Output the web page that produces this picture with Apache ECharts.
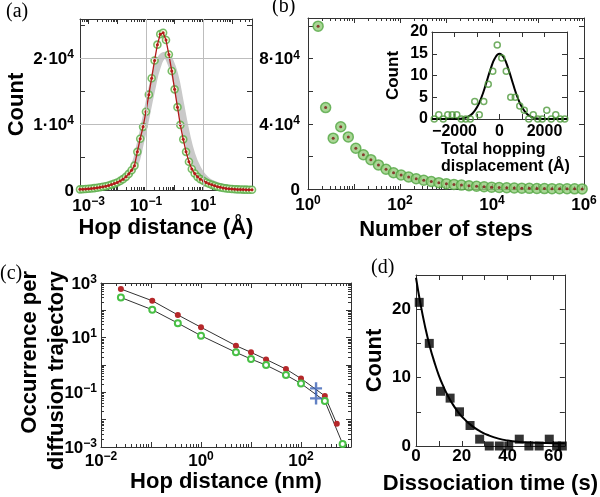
<!DOCTYPE html>
<html><head><meta charset="utf-8">
<script src="https://cdn.jsdelivr.net/npm/echarts@6/dist/echarts.min.js"></script>
<style>html,body{margin:0;padding:0;background:#fff}#c{width:600px;height:497px}</style>
</head><body><div id="c"></div>
<script>
// ---------- Panel (a): hop distance histogram ----------
const hopX = [0.000501,0.000631,0.000794,0.001,0.00126,0.00158,0.002,0.00251,0.00316,0.00398,0.00501,0.00631,0.00794,0.01,0.0126,0.0158,0.02,0.0251,0.0316,0.0398,0.0501,0.0631,0.0794,0.1,0.126,0.158,0.2,0.251,0.316,0.398,0.501,0.631,0.794,1,1.26,1.58,2,2.51,3.16,3.98,5.01,6.31,7.94,10,12.6,15.8,20,25.1,31.6,39.8,50.1,63.1,79.4,100,126,158,200,251,316,398,501];
const hopCount = [100,120,150,190,230,280,340,410,490,580,690,820,970,1150,1380,1650,2000,2450,3000,3700,5800,7800,9600,11900,14500,17000,19700,22100,23700,23900,22800,20600,18100,15300,12600,9900,7700,5800,4300,3200,2500,2000,1650,1400,1150,950,780,630,500,400,310,240,190,150,120,95,75,60,50,40,30];
const hopFitX = [0.000501,0.001,0.00251,0.00631,0.01,0.0158,0.0251,0.0398,0.0631,0.1,0.158,0.251,0.398,0.501,0.631,1,1.58,2.51,3.98,6.31,10,15.8,25.1,39.8,63.1,100,251,501];
const hopFitY = [100,190,410,820,1150,1650,2450,3700,7000,11000,15200,18800,20400,20500,20000,17600,13300,8800,5400,3300,2000,1250,800,500,300,180,80,40];
const hopYTicks = {0:'{b|0}', 10000:'{b|1·10}{s|4}', 20000:'{b|2·10}{s|4}'};

// ---------- Panel (b): number of steps ----------
const stepsX = [1.66,2.42,3.53,5.15,7.52,10.96,16.0,23.3,34.0,49.7,72.4,105.7,154,225,328,479,698,1019,1486,2168,3162,4613,6730,9817,14322,20893,30479,44463,64863,94624,138038,201372,293765,428549,625173,912011];
const stepsCount = [100000,50000,31200,38200,32000,25000,21000,18000,14800,12100,10000,8600,7400,6300,5400,4600,3900,3300,2800,2400,2000,1700,1400,1150,950,780,640,520,420,340,270,210,160,120,90,60];
const stepsYTicks = {0:'{b|0}', 40000:'{b|4·10}{s|4}', 80000:'{b|8·10}{s|4}'};

// ---------- Inset: total hopping displacement ----------
const dispX = [-2900,-2700,-2500,-2300,-2100,-1900,-1700,-1500,-1300,-1100,-900,-700,-500,-300,-100,100,300,500,700,900,1100,1300,1500,1700,1900,2100,2300,2500,2700,2900];
const dispCount = [0,1,0,1,1,1,0,0,0,4,1,4,8,11,17,14,11,5,5,3,2,0,1,0,0,2,0,1,0,0];
const dispFitX = [-3000,-2500,-2000,-1800,-1600,-1400,-1200,-1000,-800,-600,-400,-200,0,200,400,600,800,1000,1200,1400,1600,1800,2000,2500,3000];
const dispFitY = [0,0,0.01,0.06,0.19,0.52,1.27,2.7,5.0,8.09,11.4,14.0,15,14.0,11.4,8.09,5.0,2.7,1.27,0.52,0.19,0.06,0.01,0,0];
const dispXTicks = {'-2000':'−2000', '0':'0', '2000':'2000'};

// ---------- Panel (c): occurrence per trajectory ----------
const occRedX = [0.025,0.106,0.344,1,5,10,20,50,100,300,520];
const occRedY = [603,224,68,24,5.1,2.9,1.6,0.71,0.32,0.074,0.0071];
const occGreenX = [0.025,0.106,0.344,1,5,10,20,50,100,300,680];
const occGreenY = [295,105,34,11.8,2.9,1.65,0.99,0.43,0.21,0.048,0.0013];
const occBlueX = [200,200];
const occBlueY = [0.14,0.06];

// ---------- Panel (d): dissociation time ----------
const dissX = [1.4,5.8,10.7,14.9,19,23.6,27.8,32,36.4,40.5,45.1,49.3,53.8,58.2,61.4,63.9];
const dissCount = [21,15,8,7,5,3,1,0,0,0,1,0,0,1,0,0];
const dissFitX = [0,2,4,6,8,10,12,14,16,18,20,24,28,32,36,40,45,50,55,60,65];
const dissFitY = [24.6,20.7,17.4,14.6,12.3,10.3,8.67,7.28,6.12,5.14,4.32,3.05,2.15,1.52,1.08,0.8,0.6,0.5,0.45,0.4,0.4];
const dissXTicks = {0:'0', 20:'20', 40:'40', 60:'60'};
const dissYTicks = {0:'0', 10:'10', 20:'20'};

// ---------- styling helpers ----------
const F = 'Liberation Sans, Arial, Helvetica, sans-serif';
const SERIF = 'Liberation Serif, Times New Roman, serif';
const AX = '#333';
const pairs = (xs, ys) => xs.map((v, i) => [v, ys[i]]);
const RICH = {
  b: {fontSize: 17, fontWeight: 'bold', fontFamily: F, color: '#000', verticalAlign: 'bottom', lineHeight: 19},
  s: {fontSize: 12, fontWeight: 'bold', fontFamily: F, color: '#000', verticalAlign: 'bottom', lineHeight: 19, padding: [0, 0, 7, 0]}
};
function isPow(v) { const e = Math.log10(v); return Math.abs(e - Math.round(e)) < 1e-6; }
function logFmt(parity) {
  return function (v) {
    if (!isPow(v)) return '';
    const e = Math.round(Math.log10(v));
    if ((((e % 2) + 2) % 2) !== parity) return '';
    return '{b|10}{s|' + (e < 0 ? '−' + (-e) : String(e)) + '}';
  };
}
function mapFmt(m) { return v => (m[String(Math.round(v))] !== undefined && Math.abs(v - Math.round(v)) < 1e-9) ? m[String(Math.round(v))] : ''; }

function common(isLog) {
  const o = {
    axisLine: {show: true, onZero: false, lineStyle: {color: AX, width: 1}},
    axisTick: {show: true, inside: true, length: 5, lineStyle: {color: AX, width: 1}},
    splitLine: {show: false}
  };
  if (isLog) {
    o.type = 'log'; o.logBase = 10;
    o.minorTick = {show: true, splitNumber: 9, length: 3, lineStyle: {color: AX, width: 1}};
    o.minorSplitLine = {show: false};
  } else { o.type = 'value'; }
  return o;
}
const nameStyle = (fs) => ({fontSize: fs, fontWeight: 'bold', fontFamily: F, color: '#000'});

const xAxes = [], yAxes = [];
function addAxes(grid, xc, yc) {
  const xi = xAxes.length, yi = yAxes.length;
  const xl = Object.assign({show: true, color: '#000', fontFamily: F, fontWeight: 'bold', fontSize: 17, rich: RICH}, xc.label);
  const yl = Object.assign({show: true, color: '#000', fontFamily: F, fontWeight: 'bold', fontSize: 17, rich: RICH}, yc.label);
  xAxes.push(Object.assign({gridIndex: grid, position: 'bottom'}, common(xc.log), xc.range, {axisLabel: xl}, xc.name || {}));
  xAxes.push(Object.assign({gridIndex: grid, position: 'top'}, common(xc.log), xc.range, {axisLabel: {show: false}}));
  yAxes.push(Object.assign({gridIndex: grid, position: 'left'}, common(yc.log), yc.range, {axisLabel: yl}, yc.name || {}));
  yAxes.push(Object.assign({gridIndex: grid, position: 'right'}, common(yc.log), yc.range, {axisLabel: {show: false}}));
  return {xi, yi};
}

const grids = [
  {left: 80, top: 19, width: 172, height: 171},          // a
  {left: 308, top: 18, width: 276, height: 171},         // b
  {left: 432, top: 32, width: 135, height: 87, show: true, backgroundColor: '#fff', borderWidth: 0}, // inset
  {left: 101, top: 283, width: 250, height: 164},        // c
  {left: 416, top: 275, width: 156, height: 171}         // d
];

const A = addAxes(0,
  {log: true, range: {min: 0.000501, max: 501}, label: {formatter: logFmt(1), margin: 6},
   name: {name: 'Hop distance (Å)', nameLocation: 'middle', nameGap: 27, nameTextStyle: nameStyle(22)}},
  {log: false, range: {min: 0, max: 26000, interval: 5000}, label: {formatter: v => hopYTicks[v] || '', margin: 6},
   name: {name: 'Count', nameLocation: 'middle', nameRotate: 90, nameGap: 52, nameTextStyle: nameStyle(22)}});
const B = addAxes(1,
  {log: true, range: {min: 1, max: 1000000}, label: {formatter: logFmt(0), margin: 6},
   name: {name: 'Number of steps', nameLocation: 'middle', nameGap: 30, nameTextStyle: nameStyle(22)}},
  {log: false, range: {min: 0, max: 105000, interval: 20000}, label: {formatter: v => stepsYTicks[v] || '', margin: 8}});
const I = addAxes(2,
  {log: false, range: {min: -3000, max: 3000, interval: 1000}, label: {formatter: mapFmt(dispXTicks), margin: 5, fontSize: 16}},
  {log: false, range: {min: 0, max: 20, interval: 5}, label: {margin: 4, fontSize: 16},
   name: {name: 'Count', nameLocation: 'middle', nameRotate: 90, nameGap: 30, nameTextStyle: nameStyle(17)}});
const C = addAxes(3,
  {log: true, range: {min: 0.01, max: 1000}, label: {formatter: logFmt(0), margin: 4},
   name: {name: 'Hop distance (nm)', nameLocation: 'middle', nameGap: 19, nameTextStyle: nameStyle(22)}},
  {log: true, range: {min: 0.001, max: 1000}, label: {formatter: logFmt(1), margin: 4}});
const D = addAxes(4,
  {log: false, range: {min: 0, max: 65, interval: 10}, label: {formatter: mapFmt(dissXTicks), margin: 2},
   name: {name: 'Dissociation time (s)', nameLocation: 'middle', nameGap: 27, nameTextStyle: nameStyle(22)}},
  {log: false, range: {min: 0, max: 25, interval: 5}, label: {formatter: mapFmt(dissYTicks), margin: 5},
   name: {name: 'Count', nameLocation: 'middle', nameRotate: 90, nameGap: 30, nameTextStyle: nameStyle(22)}});

const series = [
  // (a)
  {type: 'line', xAxisIndex: A.xi, yAxisIndex: A.yi, data: pairs(hopFitX, hopFitY), smooth: true, showSymbol: false,
   lineStyle: {color: '#c9c9c9', width: 7}, z: 1, silent: true,
   markLine: {silent: true, symbol: 'none', label: {show: false}, lineStyle: {color: '#bdbdbd', width: 1, type: 'solid'},
     data: [{xAxis: 0.001}, {xAxis: 0.1}, {xAxis: 10}, {yAxis: 10000}, {yAxis: 20000}]}},
  {type: 'scatter', xAxisIndex: A.xi, yAxisIndex: A.yi, data: pairs(hopX, hopCount), symbol: 'circle', symbolSize: 7,
   itemStyle: {color: 'rgba(255,255,225,0.85)', borderColor: '#55ad45', borderWidth: 1.6}, z: 2},
  {type: 'line', xAxisIndex: A.xi, yAxisIndex: A.yi, data: pairs(hopX, hopCount), symbol: 'circle', symbolSize: 3,
   itemStyle: {color: '#b3191b'}, lineStyle: {color: '#b3191b', width: 1.3}, z: 3},
  // (b)
  {type: 'scatter', xAxisIndex: B.xi, yAxisIndex: B.yi, data: pairs(stepsX, stepsCount), symbol: 'circle', symbolSize: 10,
   itemStyle: {color: '#94cc7c', borderColor: '#52a642', borderWidth: 1.5}, z: 2},
  {type: 'scatter', xAxisIndex: B.xi, yAxisIndex: B.yi, data: pairs(stepsX, stepsCount), symbol: 'circle', symbolSize: 3,
   itemStyle: {color: '#7d1414'}, z: 3},
  // inset
  {type: 'line', xAxisIndex: I.xi, yAxisIndex: I.yi, data: pairs(dispFitX, dispFitY), smooth: true, showSymbol: false,
   lineStyle: {color: '#000', width: 2}, z: 3},
  {type: 'scatter', xAxisIndex: I.xi, yAxisIndex: I.yi, data: pairs(dispX, dispCount), symbol: 'circle', symbolSize: 6,
   itemStyle: {color: 'rgba(255,255,255,0)', borderColor: '#4f9a3c', borderWidth: 1.5}, z: 4},
  // (c)
  {type: 'line', xAxisIndex: C.xi, yAxisIndex: C.yi, data: pairs(occRedX, occRedY), symbol: 'circle', symbolSize: 6,
   itemStyle: {color: '#b5282a'}, lineStyle: {color: '#333', width: 1}, z: 3},
  {type: 'line', xAxisIndex: C.xi, yAxisIndex: C.yi, data: pairs(occGreenX, occGreenY), symbol: 'emptyCircle', symbolSize: 6,
   itemStyle: {color: '#49c046', borderWidth: 1.5}, lineStyle: {color: '#333', width: 1}, z: 3},
  {type: 'scatter', xAxisIndex: C.xi, yAxisIndex: C.yi, data: pairs(occBlueX, occBlueY),
   symbol: 'path://M4,0H6V4H10V6H6V10H4V6H0V4H4Z', symbolSize: 12, itemStyle: {color: '#3b62b5'}, z: 4},
  // (d)
  {type: 'line', xAxisIndex: D.xi, yAxisIndex: D.yi, data: pairs(dissFitX, dissFitY), smooth: true, showSymbol: false,
   lineStyle: {color: '#000', width: 2}, z: 3},
  {type: 'scatter', xAxisIndex: D.xi, yAxisIndex: D.yi, data: pairs(dissX, dissCount), symbol: 'rect', symbolSize: 9,
   itemStyle: {color: '#000'}, z: 4}
];

const letterStyle = t => ({text: t, font: '20px ' + SERIF, fill: '#000'});
const graphic = [
  {type: 'text', left: 6, top: 2, style: letterStyle('(a)')},
  {type: 'text', left: 272, top: -3, style: letterStyle('(b)')},
  {type: 'text', left: 0, top: 264, style: letterStyle('(c)')},
  {type: 'text', left: 371, top: 258, style: letterStyle('(d)')},
  {type: 'text', left: 441, top: 141, style: {text: 'Total hopping\ndisplacement (Å)', font: 'bold 16px ' + F, fill: '#000', lineHeight: 17}},
  {type: 'text', x: 30, y: 271, rotation: Math.PI / 2, style: {text: 'Occurrence per', font: 'bold 22px ' + F, fill: '#000', align: 'right', verticalAlign: 'middle'}},
  {type: 'text', x: 57, y: 271, rotation: Math.PI / 2, style: {text: 'diffusion trajectory', font: 'bold 22px ' + F, fill: '#000', align: 'right', verticalAlign: 'middle'}}
];

const chart = echarts.init(document.getElementById('c'), null, {renderer: 'canvas'});
chart.setOption({
  animation: false,
  backgroundColor: '#fff',
  grid: grids,
  xAxis: xAxes,
  yAxis: yAxes,
  series: series,
  graphic: graphic
});
</script></body></html>
